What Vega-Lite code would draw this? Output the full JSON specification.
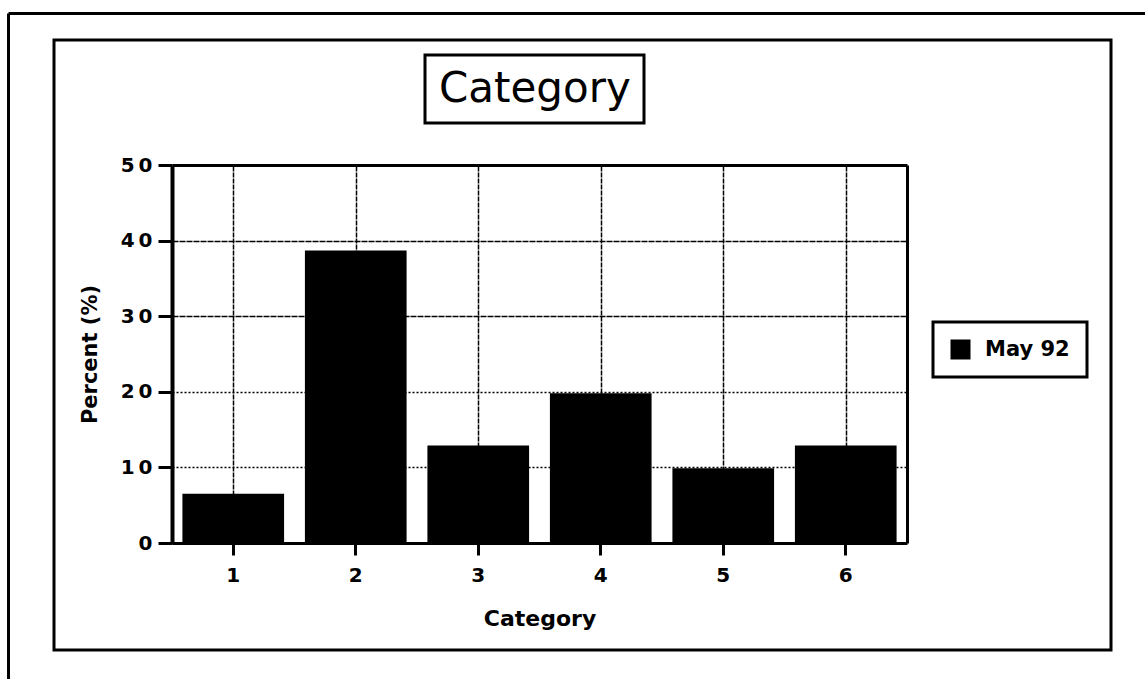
{
  "$schema": "https://vega.github.io/schema/vega-lite/v6.json",
  "description": "Share of responses by category, May 92, framed as a printed figure.",
  "width": 1057,
  "height": 610,
  "autosize": "none",
  "padding": {"left": 54, "top": 40, "right": 34, "bottom": 29},
  "background": "white",
  "view": {"stroke": "black", "strokeWidth": 3},
  "config": {
    "font": "DejaVu Sans",
    "axis": {
      "labelFont": "DejaVu Sans",
      "titleFont": "DejaVu Sans",
      "labelColor": "black",
      "titleColor": "black",
      "domainColor": "black",
      "tickColor": "black",
      "gridColor": "black"
    },
    "legend": {"labelFont": "DejaVu Sans", "labelColor": "black", "strokeWidth": 3}
  },
  "data": {
    "values": [
      {"category": "1", "percent": 6.5},
      {"category": "2", "percent": 38.7},
      {"category": "3", "percent": 12.9},
      {"category": "4", "percent": 19.8},
      {"category": "5", "percent": 9.9},
      {"category": "6", "percent": 12.9}
    ]
  },
  "layer": [
    {
      "mark": {"type": "bar"},
      "encoding": {
        "x": {
          "field": "category",
          "type": "ordinal",
          "scale": {"range": [118, 853], "paddingInner": 0.17, "paddingOuter": 0.085},
          "axis": {
            "orient": "bottom",
            "offset": -107,
            "title": "Category",
            "titleFontSize": 22,
            "titleFontWeight": "bold",
            "titlePadding": 23,
            "labelAngle": 0,
            "labelFontSize": 20,
            "labelFontWeight": "bold",
            "labelPadding": 10,
            "tickSize": 12,
            "tickWidth": 3,
            "domainWidth": 3,
            "grid": false
          }
        },
        "y": {
          "field": "percent",
          "type": "quantitative",
          "scale": {"domain": [0, 50], "range": [503, 125], "nice": false},
          "axis": {
            "orient": "left",
            "offset": -118,
            "values": [0, 10, 20, 30, 40, 50],
            "title": "Percent (%)",
            "titleFontSize": 21,
            "titleFontWeight": "bold",
            "titlePadding": 20,
            "labelFontSize": 20,
            "labelFontWeight": "bold",
            "labelPadding": 6,
            "labelExpr": "length(datum.label) > 1 ? slice(datum.label, 0, 1) + '\u2009' + slice(datum.label, 1) : datum.label",
            "tickSize": 14,
            "tickWidth": 3,
            "domainWidth": 4,
            "grid": true,
            "gridWidth": 1.5,
            "gridDash": {"condition": {"test": "datum.value <= 20", "value": [2, 2]}, "value": [6, 1]}
          }
        },
        "color": {
          "datum": "May 92",
          "scale": {"range": ["black"]},
          "legend": {
            "orient": "none",
            "legendX": 879,
            "legendY": 282,
            "title": null,
            "fillColor": "white",
            "strokeColor": "black",
            "padding": 17,
            "symbolType": "square",
            "symbolSize": 400,
            "symbolFillColor": "black",
            "symbolStrokeWidth": 0,
            "labelFontSize": 21,
            "labelFontWeight": "bold",
            "labelOffset": 14
          }
        },
        "strokeDash": {
          "datum": "Category",
          "legend": {
            "orient": "none",
            "legendX": 371,
            "legendY": 15,
            "title": null,
            "fillColor": "white",
            "strokeColor": "black",
            "padding": 13,
            "symbolType": "circle",
            "symbolSize": 0,
            "symbolOpacity": 0,
            "symbolStrokeWidth": 0,
            "labelOffset": -41,
            "labelLimit": 0,
            "labelFontSize": 42,
            "labelFontWeight": "normal"
          }
        }
      }
    },
    {
      "mark": {"type": "text", "text": ""},
      "encoding": {
        "x": {
          "field": "category",
          "type": "ordinal",
          "scale": {"range": [118, 853], "paddingInner": 0.17, "paddingOuter": 0.085},
          "axis": {
            "orient": "top",
            "offset": -125,
            "title": null,
            "labels": false,
            "ticks": false,
            "domainWidth": 3,
            "grid": true,
            "gridWidth": 1.5,
            "gridDash": [5, 1]
          }
        },
        "y": {
          "field": "percent",
          "type": "quantitative",
          "scale": {"domain": [0, 50], "range": [503, 125], "nice": false},
          "axis": {"orient": "right", "offset": -204, "title": null, "labels": false, "ticks": false, "grid": false, "domainWidth": 3}
        }
      }
    },
    {
      "mark": {"type": "text", "text": ""},
      "encoding": {
        "x": {
          "field": "category",
          "type": "ordinal",
          "scale": {"range": [-46, 1091]},
          "axis": {"orient": "top", "offset": 27, "title": null, "labels": false, "ticks": false, "grid": false, "domainWidth": 3}
        },
        "y": {
          "field": "percent",
          "type": "quantitative",
          "scale": {"domain": [0, 50], "range": [639, -27], "nice": false},
          "axis": {"orient": "left", "offset": 46, "title": null, "labels": false, "ticks": false, "grid": false, "domainWidth": 3}
        }
      }
    }
  ],
  "resolve": {
    "scale": {"x": "independent", "y": "independent"},
    "axis": {"x": "independent", "y": "independent"}
  }
}
